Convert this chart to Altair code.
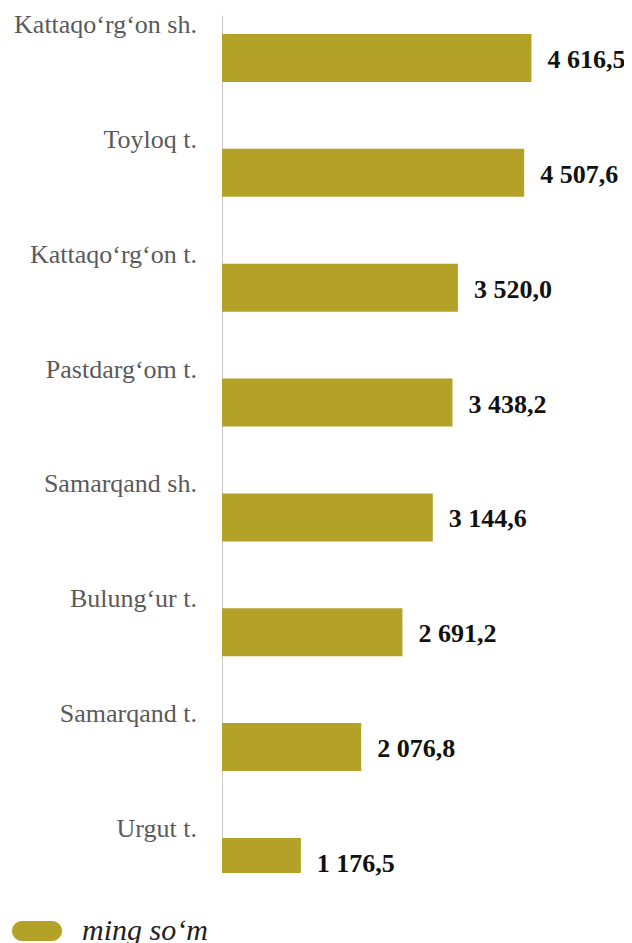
import altair as alt
import pandas as pd

categories = [
    "Kattaqo‘rg‘on sh.",
    "Toyloq t.",
    "Kattaqo‘rg‘on t.",
    "Pastdarg‘om t.",
    "Samarqand sh.",
    "Bulung‘ur t.",
    "Samarqand t.",
    "Urgut t.",
]
values = [4616.5, 4507.6, 3520.0, 3438.2, 3144.6, 2691.2, 2076.8, 1176.5]
unit_label = "ming so‘m"


def fmt(v):
    return f"{v:,.1f}".replace(",", " ").replace(".", ",")


df = pd.DataFrame({
    "cat": categories,
    "value": values,
    "idx": list(range(len(categories))),
    "label": [fmt(v) for v in values],
    "unit": [unit_label] * len(categories),
})

BAR = "#B3A227"
SERIF = "Liberation Serif"

x = alt.X("value:Q", scale=alt.Scale(domain=[0, 5967], nice=False, zero=True, padding=0), axis=None)
y = alt.Y(
    "idx:Q",
    scale=alt.Scale(domain=[-0.374, 7.096], reverse=True, nice=False, zero=False, padding=0),
    axis=alt.Axis(labels=False, ticks=False, grid=False, title=None,
                  domainColor="#C8C8C8", domainWidth=1),
)

bars = alt.Chart(df).mark_bar(orient="horizontal", size=48, clip=True).encode(
    x=x,
    y=y,
    color=alt.Color(
        "unit:N",
        scale=alt.Scale(range=[BAR]),
        legend=alt.Legend(
            title=None,
            orient="none",
            legendX=-210,
            legendY=891,
            symbolType="M-0.6,-0.4 L0.6,-0.4 A0.4,0.4 0 0 1 0.6,0.4 L-0.6,0.4 A0.4,0.4 0 0 1 -0.6,-0.4 Z",
            symbolSize=2500,
            symbolStrokeWidth=0,
            symbolOpacity=1,
            labelFont=SERIF,
            labelFontStyle="italic",
            labelFontSize=30,
            labelColor="#222222",
            labelOffset=20,
            padding=0,
        ),
    ),
)

values_text = alt.Chart(df).mark_text(
    align="left", baseline="middle", dx=16, dy=2,
    font=SERIF, fontSize=26, fontWeight="bold", color="#111111",
).encode(x="value:Q", y="idx:Q", text="label:N")

cat_text = alt.Chart(df).mark_text(
    align="right", baseline="alphabetic", dx=-25, dy=-25,
    font=SERIF, fontSize=26, color="#5A5A5A",
).encode(x=alt.datum(0), y="idx:Q", text="cat:N")

chart = alt.layer(bars, values_text, cat_text).properties(
    width=400, height=858,
    autosize=alt.AutoSizeParams(type="none"),
    padding={"left": 214, "top": 7, "right": 2, "bottom": 70},
).configure_view(stroke=None)

chart.save("out.html", embed_options={"renderer": "svg", "actions": False})
